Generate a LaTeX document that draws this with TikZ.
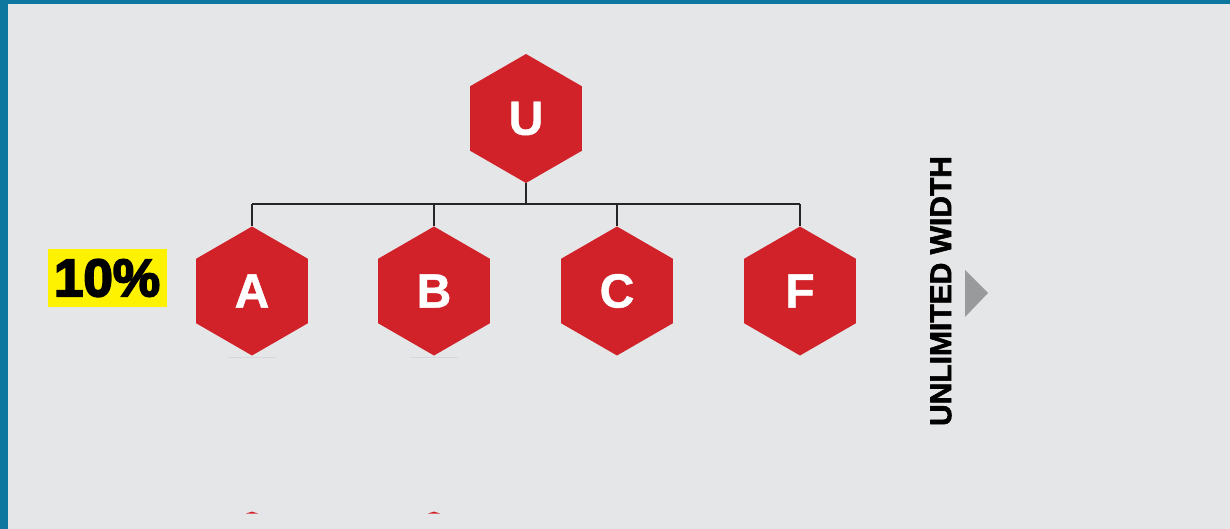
\documentclass[tikz,border=0pt]{standalone}
\usepackage{fontspec}
\setmainfont{Liberation Sans}[BoldFont={Liberation Sans Bold}]
\newfontfamily\heavyfont{Liberation Sans Bold}[FakeBold=2]
\newfontfamily\blackfont{Liberation Sans Bold}[FakeBold=3.5]
\newfontfamily\hexfont{Liberation Sans Bold}[FakeBold=1]
\usepackage{tikz}
\usetikzlibrary{shapes.geometric}
\definecolor{FrameBlue}{RGB}{14,119,160}
\definecolor{PanelGray}{RGB}{229,230,232}
\definecolor{HexRed}{RGB}{209,34,42}
\definecolor{ArrowGray}{RGB}{153,154,156}
\definecolor{ShadeGray}{RGB}{214,215,218}

\begin{document}
\begin{tikzpicture}[x=1pt,y=-1pt,
hex/.style={regular polygon,regular polygon sides=6,shape border rotate=30,fill=HexRed,minimum size=129pt,inner sep=0pt,text=white,font=\hexfont\fontsize{48}{48}\selectfont},
conn/.style={line width=1.6pt,line join=miter,black!85}]
\useasboundingbox (0,0) rectangle (1230,529);
\fill[FrameBlue] (0,0) rectangle (1230,529);
\fill[PanelGray] (8,4) rectangle (1230,529);
\node[hex] (u) at (526,118.5) {U};
\foreach \n/\x/\l in %
{a/252/A,b/434/B,c/617/C,f/800/F} {
   \node[hex] (\n) at (\x,291) {\l};
}
\coordinate (bus) at (0,204);
\draw[conn] (u.south) -- (u.south |- bus);
\draw[conn] (a.north |- bus) -- (f.north |- bus);
\foreach \n in {a,b,c,f} {
   \draw[conn] (\n.north) -- (\n.north |- bus);
}
\node[fill=yellow,minimum width=119pt,minimum height=58pt,inner sep=0pt,font=\blackfont\fontsize{53}{53}\selectfont] (pct) at (107,278) {10\%};
\node[rotate=90,font=\heavyfont\fontsize{30}{30}\selectfont] (width) at (941,291) {UNLIMITED WIDTH};
\fill[ArrowGray] (965,270) -- (988,293) -- (965,317) -- cycle;
% faint rules and cut-off tips below A and B
\foreach \x in {252,434} {
   \draw[ShadeGray,line width=0.8pt] (\x-24,357) -- (\x+24,357);
   \fill[HexRed] (\x-6,513.5) -- (\x,511.5) -- (\x+6,513.5) -- cycle;
}
\end{tikzpicture}
\end{document}
